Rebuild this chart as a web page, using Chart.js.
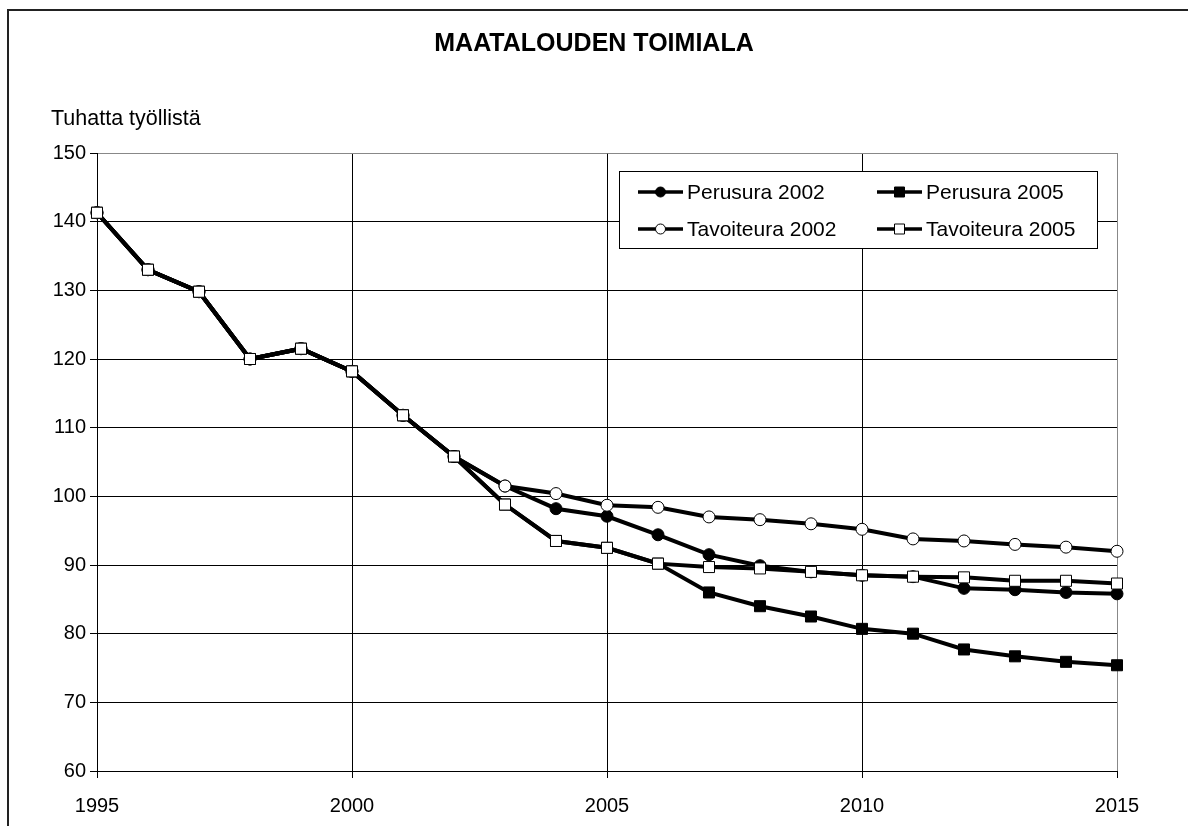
<!DOCTYPE html>
<html>
<head>
<meta charset="utf-8">
<script src="https://cdn.jsdelivr.net/npm/chart.js@4/dist/chart.umd.min.js"></script>
<style>
  html, body { margin: 0; padding: 0; background: #fff; }
  canvas { display: block; }
</style>
</head>
<body>
<canvas id="chart" width="1188" height="826"></canvas>
<script>
const FONT = "'Liberation Sans', Arial, sans-serif"

const titleText = 'MAATALOUDEN TOIMIALA'
const unitLabel = 'Tuhatta työllistä'

const years = [1995, 1996, 1997, 1998, 1999, 2000, 2001, 2002, 2003, 2004, 2005,
  2006, 2007, 2008, 2009, 2010, 2011, 2012, 2013, 2014, 2015]

// 1995-2002 are the same history for every series
const history = [141.3, 133.0, 129.8, 120.0, 121.5, 118.2, 111.8, 105.8]

const perusura2002 = history.concat([101.5, 98.2, 97.1, 94.4, 91.5, 89.9, 89.0, 88.5, 88.3, 86.6, 86.4, 86.0, 85.8])
const perusura2005 = history.concat([98.8, 93.5, 92.5, 90.2, 86.0, 84.0, 82.5, 80.7, 80.0, 77.7, 76.7, 75.9, 75.4])
const tavoiteura2002 = history.concat([101.5, 100.4, 98.7, 98.4, 97.0, 96.6, 96.0, 95.2, 93.8, 93.5, 93.0, 92.6, 92.0])
const tavoiteura2005 = history.concat([98.8, 93.5, 92.5, 90.2, 89.7, 89.5, 89.0, 88.5, 88.3, 88.2, 87.7, 87.7, 87.3])

const seriesLabels = ['Perusura 2002', 'Perusura 2005', 'Tavoiteura 2002', 'Tavoiteura 2005']
const seriesValues = [perusura2002, perusura2005, tavoiteura2002, tavoiteura2005]

const xTicks = { min: 1995, max: 2015, step: 5 }
const yTicks = { min: 60, max: 150, step: 10 }

// marker look per series: [style, fill]
const markers = [
  ['circle', '#000'],
  ['rect', '#000'],
  ['circle', '#fff'],
  ['rect', '#fff'],
]

function toPoints(vals) {
  return years.map((yr, i) => ({ x: yr, y: vals[i] }))
}

const datasets = seriesLabels.map((label, i) => ({
  label: label,
  data: toPoints(seriesValues[i]),
  borderColor: '#000',
  borderWidth: 4,
  pointStyle: markers[i][0],
  pointRadius: markers[i][0] == 'rect' ? 7.8 : 6,
  pointBackgroundColor: markers[i][1],
  pointBorderColor: '#000',
  pointBorderWidth: 1,
  order: 4 - i,
  clip: false,
  tension: 0,
}))

const decor = {
  id: 'decor',
  beforeDraw(chart) {
    const ctx = chart.ctx
    ctx.save()
    ctx.fillStyle = '#fff'
    ctx.fillRect(0, 0, chart.width, chart.height)
    ctx.strokeStyle = '#222'
    ctx.lineWidth = 2
    ctx.beginPath()
    ctx.moveTo(8, chart.height)
    ctx.lineTo(8, 10)
    ctx.lineTo(chart.width, 10)
    ctx.stroke()
    ctx.restore()
  },
  afterDraw(chart) {
    const ctx = chart.ctx
    const ca = chart.chartArea
    ctx.save()
    ctx.fillStyle = '#000'
    ctx.font = '21.5px ' + FONT
    ctx.textBaseline = 'alphabetic'
    ctx.fillText(unitLabel, 51, 125)

    // legend box
    const bx = ca.left + 522, by = ca.top + 18, bw = 478, bh = 77
    ctx.fillStyle = '#fff'
    ctx.fillRect(bx, by, bw, bh)
    ctx.strokeStyle = '#000'
    ctx.lineWidth = 1
    ctx.strokeRect(bx + 0.5, by + 0.5, bw, bh)

    const cols = [bx + 19, bx + 258]
    const rows = [by + 21, by + 58]
    // order in legend: row 1 Perusura, row 2 Tavoiteura
    const slots = [[0, 0], [1, 0], [0, 1], [1, 1]]
    seriesLabels.forEach((label, i) => {
      const x = cols[slots[i][0]]
      const y = rows[slots[i][1]]
      ctx.strokeStyle = '#000'
      ctx.lineWidth = 3.5
      ctx.beginPath()
      ctx.moveTo(x, y)
      ctx.lineTo(x + 45, y)
      ctx.stroke()
      ctx.fillStyle = markers[i][1]
      ctx.lineWidth = 1
      ctx.beginPath()
      if (markers[i][0] == 'circle') {
        ctx.arc(x + 22.5, y, 5, 0, Math.PI * 2)
      } else {
        ctx.rect(x + 17.5, y - 5, 10, 10)
      }
      ctx.fill()
      ctx.stroke()
      ctx.fillStyle = '#000'
      ctx.font = '21px ' + FONT
      ctx.fillText(label, x + 49, y + 6.5)
    })
    ctx.restore()
  }
}

const ctx = document.getElementById('chart').getContext('2d')
const myChart = new Chart(ctx, {
  type: 'line',
  data: { datasets: datasets },
  options: {
    responsive: false,
    animation: false,
    layout: { padding: 0 },
    plugins: {
      legend: { display: false },
      tooltip: { enabled: false },
      title: {
        display: true,
        text: titleText,
        color: '#000',
        font: { family: FONT, size: 25, weight: 'bold', lineHeight: 1.2 },
        padding: { top: 29, bottom: 94 },
      },
    },
    scales: {
      x: {
        type: 'linear',
        min: xTicks.min,
        max: xTicks.max,
        afterFit: scale => { scale.height = 55 },
        ticks: {
          stepSize: xTicks.step,
          color: '#000',
          padding: 16,
          maxRotation: 0,
          font: { family: FONT, size: 20 },
          callback: v => String(v),
        },
        grid: {
          color: c => (c.tick && c.tick.value == xTicks.max) ? '#888' : '#000',
          tickColor: '#000',
          tickLength: 7,
          lineWidth: 1,
        },
        border: { color: '#000', width: 1 },
      },
      y: {
        type: 'linear',
        min: yTicks.min,
        max: yTicks.max,
        afterFit: scale => { scale.width = 97 },
        ticks: {
          stepSize: yTicks.step,
          color: '#000',
          padding: 4,
          font: { family: FONT, size: 20 },
        },
        grid: {
          color: c => (c.tick && c.tick.value == yTicks.max) ? '#888' : '#000',
          tickColor: '#000',
          tickLength: 7,
          lineWidth: 1,
        },
        border: { color: '#000', width: 1 },
      },
      // empty right axis, only keeps the space on the right side
      yRight: {
        type: 'linear',
        position: 'right',
        min: yTicks.min,
        max: yTicks.max,
        afterFit: scale => { scale.width = 71 },
        ticks: { display: false },
        grid: { display: false },
        border: { display: false },
      }
    }
  },
  plugins: [decor]
})
</script>
</body>
</html>
